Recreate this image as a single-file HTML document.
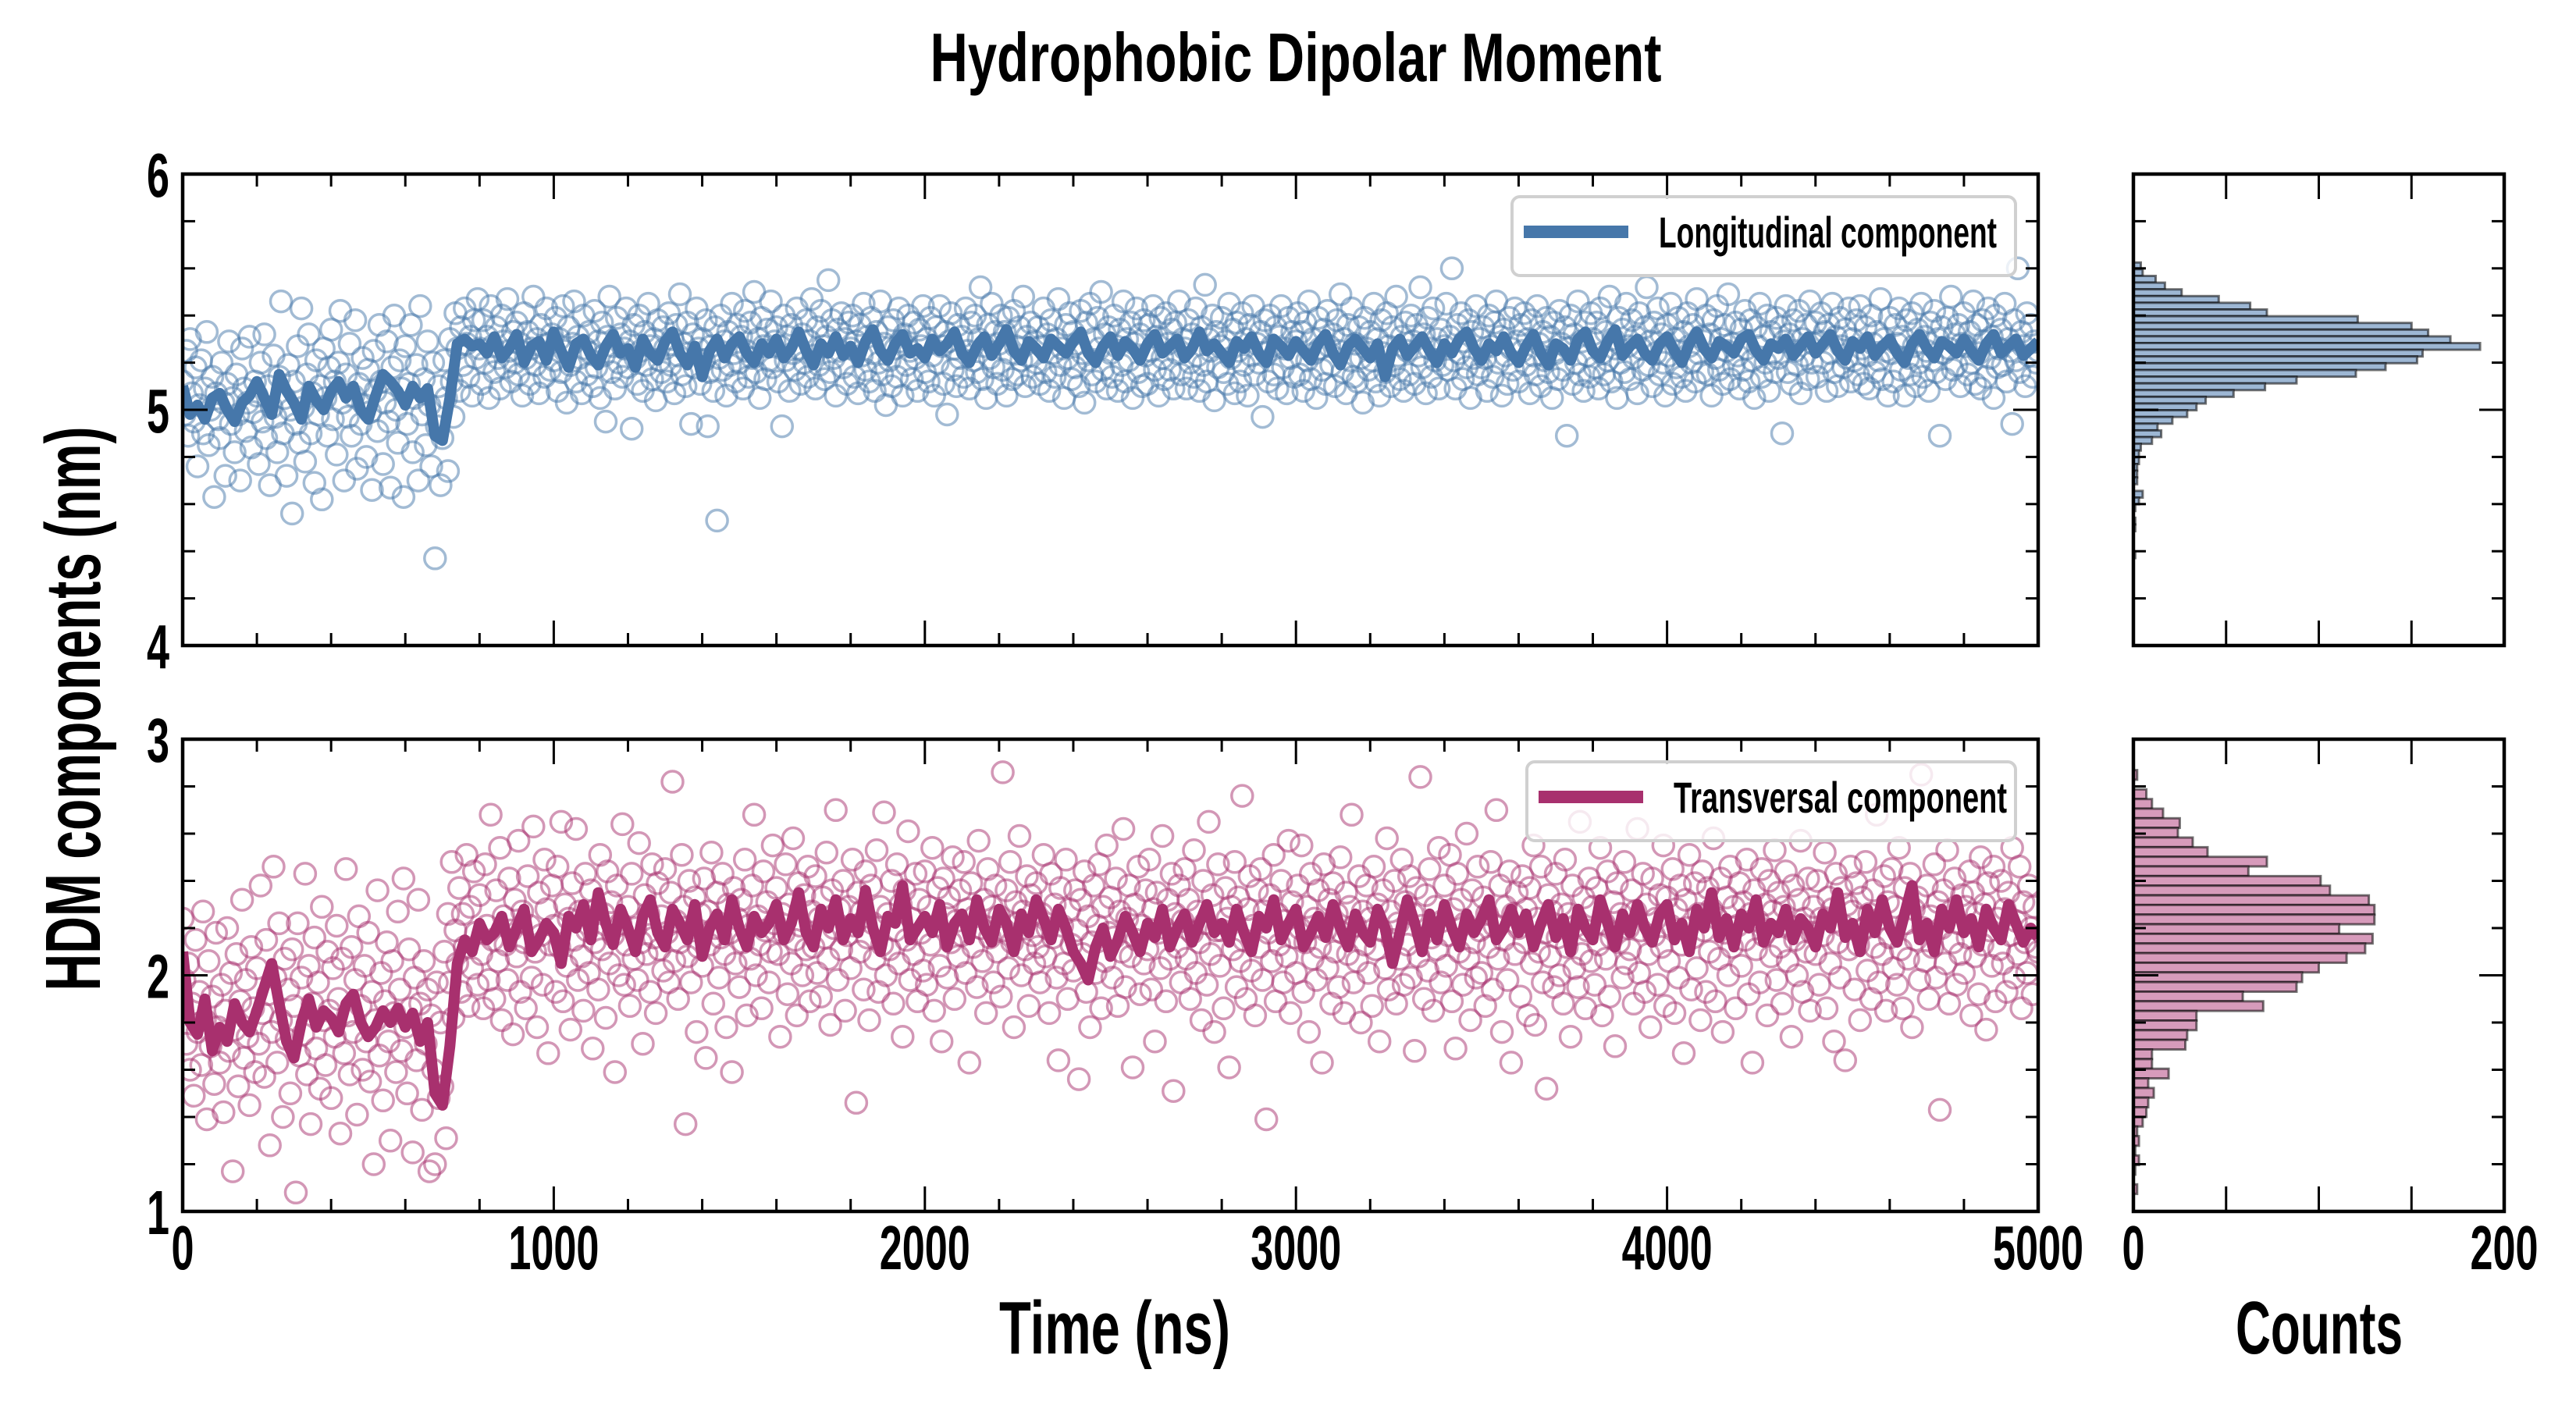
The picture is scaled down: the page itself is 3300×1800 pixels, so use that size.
<!DOCTYPE html>
<html><head><meta charset="utf-8"><title>Hydrophobic Dipolar Moment</title>
<style>
html,body{margin:0;padding:0;background:#fff;}
svg{display:block;}
text{font-family:"Liberation Sans Narrow","Liberation Sans",sans-serif;font-weight:bold;fill:#000;}
</style></head>
<body>
<svg id="chart" xmlns="http://www.w3.org/2000/svg" width="3300" height="1800" viewBox="0 0 3300 1800">
<rect x="0" y="0" width="3300" height="1800" fill="#fff"/>
<defs>
<clipPath id="clipTop"><rect x="234" y="223" width="2377" height="604"/></clipPath>
<clipPath id="clipBot"><rect x="234" y="947" width="2377" height="605"/></clipPath>
</defs>
<text x="1660" y="104" text-anchor="middle" font-size="88" textLength="937" lengthAdjust="spacingAndGlyphs">Hydrophobic Dipolar Moment</text>
<text transform="translate(128,908) rotate(-90)" text-anchor="middle" font-size="100" textLength="723" lengthAdjust="spacingAndGlyphs">HDM components (nm)</text>
<text x="1428" y="1734" text-anchor="middle" font-size="96" textLength="296" lengthAdjust="spacingAndGlyphs">Time (ns)</text>
<text x="2971" y="1734" text-anchor="middle" font-size="96" textLength="214" lengthAdjust="spacingAndGlyphs">Counts</text>
<g id="layer"></g>
</svg>
<script>
// ---- data ----
const timeMin = 0, timeMax = 5000;
const scatterStepNs = 5;
const lineStepNs = 20;
const longitudinalCenti = [
512,498,525,489,530,507,495,518,476,502,521,490,509,533,485,500,514,463,507,496,
488,520,503,472,511,529,494,505,482,515,498,470,526,509,491,503,531,484,499,512,
506,477,520,495,532,488,510,468,501,523,497,482,514,546,490,505,472,519,500,456,
512,494,527,486,543,501,478,515,532,490,507,469,521,498,510,462,526,505,489,518,
534,496,512,481,520,542,503,470,515,497,528,489,506,538,475,511,494,522,502,480,
517,499,466,525,508,491,536,512,477,503,529,495,467,518,540,500,486,521,509,463,
527,494,511,536,482,505,519,470,544,498,513,485,529,502,476,520,437,493,510,468,
488,521,505,474,530,512,497,541,526,508,535,519,543,528,514,531,506,538,522,547,
526,511,538,520,531,505,544,527,516,535,522,509,540,529,518,547,525,512,533,520,
537,515,528,506,541,522,533,511,526,548,519,530,507,536,524,514,543,528,517,532,
521,539,508,530,516,544,525,503,535,519,528,546,512,531,522,507,540,526,515,533,
524,510,542,518,529,505,537,523,495,531,548,516,527,509,539,520,532,514,526,543,
518,529,492,536,522,511,540,525,508,533,519,545,527,513,530,504,538,521,516,535,
526,512,541,519,530,507,536,523,549,515,528,510,537,524,494,532,518,543,526,511,
530,521,538,493,516,527,508,535,453,522,540,517,529,506,533,519,545,524,512,536,
520,531,509,542,525,514,537,522,550,516,530,505,539,527,513,534,521,546,518,529,
535,512,527,493,540,521,531,508,536,524,517,543,526,511,532,520,538,514,529,547,
523,509,535,519,542,527,513,531,555,516,538,522,506,534,525,541,518,530,511,537,
526,540,514,529,507,536,523,545,517,531,512,539,524,508,533,520,546,515,528,502,
535,521,510,538,526,514,543,529,506,532,519,540,525,513,537,522,508,534,527,544,
516,530,512,539,523,506,535,520,544,527,511,533,498,529,541,517,526,510,536,522,
531,514,543,525,509,537,521,540,516,530,552,513,527,505,536,522,545,518,533,511,
528,540,517,533,506,539,524,513,542,527,515,535,521,548,510,531,523,537,514,529,
520,535,511,527,543,516,532,508,538,524,514,530,547,519,526,505,536,522,541,513,
533,518,528,510,542,524,503,537,521,545,515,530,512,539,526,550,517,532,509,535,
524,514,540,527,508,534,519,546,512,530,521,537,505,528,543,516,532,510,538,523,
511,536,525,544,517,531,506,539,522,513,541,528,517,534,509,537,524,546,515,530,
526,509,538,520,532,514,543,523,508,535,519,553,512,530,525,540,504,533,518,527,
539,516,529,511,545,522,534,507,537,525,512,541,519,530,506,536,523,544,515,528,
520,533,497,538,524,512,540,527,515,535,509,531,544,518,526,507,539,522,533,514,
529,541,515,533,508,537,521,546,513,530,524,505,539,526,517,534,511,542,527,519,
532,510,538,525,549,516,530,507,536,521,543,514,528,512,535,522,503,539,526,517,
533,521,545,512,530,506,538,524,516,541,527,510,535,519,548,523,513,531,508,537,
525,515,540,529,511,536,523,552,518,532,507,539,526,514,543,521,530,509,534,519,
527,545,517,531,560,521,509,536,524,541,513,529,518,538,505,533,522,544,515,530,
518,535,522,508,540,527,514,537,546,520,531,506,534,523,511,539,526,517,543,529,
512,536,525,541,519,530,507,538,523,515,544,528,510,533,521,539,516,531,505,537,
524,513,542,528,517,535,489,526,540,511,532,520,546,515,529,508,537,523,514,541,
530,518,537,509,543,524,515,533,521,548,512,530,526,505,539,520,534,516,545,527,
513,538,522,531,507,541,526,517,535,552,519,529,510,537,524,543,515,532,520,506,
536,523,545,511,530,518,539,525,514,533,508,541,527,520,536,512,547,524,531,516,
529,540,515,532,506,538,522,544,517,530,511,536,525,549,513,528,519,537,523,509,
534,517,542,526,512,538,521,505,535,527,545,514,531,520,540,508,533,524,516,539,
522,535,490,529,544,516,532,511,538,525,519,542,507,530,523,536,513,546,520,528,
537,514,529,541,520,533,508,536,524,545,516,531,510,539,527,518,534,522,543,512,
530,521,538,515,544,526,511,535,523,509,540,528,516,533,521,547,513,530,525,506,
539,524,512,536,528,543,517,531,506,538,522,515,541,527,510,534,520,545,514,531,
525,508,537,521,542,516,530,489,535,524,513,539,526,548,517,532,519,536,510,528,
541,527,515,533,520,546,511,536,524,509,538,529,514,543,522,531,505,540,518,526,
534,519,545,512,530,525,494,538,521,560,516,533,527,510,541,523,536,514,529,520,
525];
const transversalCenti = [
224,198,171,205,160,188,149,215,176,193,162,227,181,139,206,170,191,154,218,178,
163,196,142,185,220,168,201,117,177,209,153,189,232,165,198,174,145,212,186,159,
203,171,238,184,157,215,192,128,176,246,199,163,222,181,140,207,173,194,150,211,
187,108,222,166,199,175,243,158,204,137,188,216,169,197,152,229,181,162,210,185,
148,203,174,221,190,133,207,167,245,183,158,212,176,198,141,225,187,160,204,172,
218,155,193,120,181,236,166,201,147,189,214,172,130,206,184,159,227,194,168,241,
178,150,211,186,125,199,164,232,188,143,206,171,194,117,183,160,120,197,148,180,
153,210,131,226,197,248,182,219,205,237,193,226,212,251,187,229,203,244,218,196,
234,209,186,247,221,198,268,215,190,236,206,254,181,225,213,198,241,219,175,232,
208,257,193,227,214,186,242,221,199,263,210,178,235,217,196,249,228,167,213,238,
221,193,246,212,265,189,230,204,224,177,239,215,262,198,227,208,185,243,219,201,
236,169,214,228,194,251,211,226,182,244,205,231,217,159,238,200,222,264,196,213,
229,187,243,207,220,198,256,214,171,234,209,226,193,247,216,184,239,211,225,202,
245,218,197,235,282,206,223,190,214,251,229,137,208,240,197,219,233,176,212,226,
204,241,165,227,213,252,188,220,235,199,216,243,209,178,230,218,159,237,205,224,
195,232,214,249,183,221,207,238,268,200,225,213,186,244,219,231,197,210,255,222,
237,209,174,226,218,247,192,230,205,258,215,183,239,221,200,234,211,246,189,227,
212,242,201,224,191,233,216,252,207,179,236,220,270,198,228,211,240,185,217,229,
203,249,221,146,235,210,227,194,244,216,181,238,222,207,253,193,229,213,269,200,
226,211,240,188,219,247,205,230,174,236,215,261,198,224,209,243,189,232,218,202,
244,196,229,213,254,185,221,237,204,172,241,226,199,233,214,250,190,223,208,236,
217,248,201,228,163,239,212,225,195,257,220,206,232,184,245,216,229,197,238,210,
225,191,286,219,236,203,248,214,178,231,222,259,200,227,211,242,187,234,217,205,
239,212,197,226,251,208,220,184,243,216,230,199,164,237,221,205,249,190,228,213,
202,236,219,156,232,209,244,193,225,178,214,238,201,221,247,186,229,206,255,218,
233,199,216,241,187,227,210,262,195,224,238,208,161,230,215,246,192,221,205,236,
211,249,194,228,172,235,218,203,259,220,189,232,207,243,151,226,212,238,197,223,
245,207,232,190,218,253,201,227,214,181,240,222,196,265,209,234,176,219,247,204,
219,186,237,224,161,229,211,248,195,233,206,276,215,190,228,242,202,221,183,236,
212,245,198,227,139,218,234,206,251,189,226,213,240,197,223,208,257,184,231,216,
201,238,220,255,193,214,229,176,243,207,224,198,236,212,163,247,219,203,232,188,
239,210,226,195,250,218,184,235,209,229,268,197,221,206,242,180,227,213,238,201,
224,187,246,211,230,172,219,236,203,258,194,227,215,240,188,222,207,249,196,231,
213,242,199,226,168,237,208,284,221,190,234,202,245,216,185,229,211,254,197,223,
238,204,217,251,189,228,169,243,210,232,196,222,260,207,181,236,214,199,246,219,
201,233,187,226,212,248,194,221,270,207,238,176,215,229,198,244,163,226,209,235,
220,191,242,214,228,183,237,205,255,179,224,210,246,197,218,152,234,208,227,195,
243,216,200,230,188,249,212,226,174,238,203,221,195,265,209,233,186,219,241,206,
229,196,237,213,254,183,222,207,244,191,216,231,170,239,214,226,199,248,205,220,
211,236,188,227,262,201,219,243,193,230,209,178,241,217,224,196,234,212,255,187,
233,206,221,245,184,228,199,238,213,167,232,220,251,194,216,239,203,226,181,244,
219,193,237,210,228,258,189,224,207,241,176,218,233,200,246,212,229,186,221,239,
204,231,215,249,192,226,163,236,211,223,197,245,217,230,183,240,208,227,253,198,
235,212,188,229,244,206,221,174,238,215,200,232,257,193,224,210,241,185,218,229,
209,240,196,224,217,252,186,233,205,228,172,243,214,199,237,221,164,230,211,246,
227,194,239,213,181,233,220,248,202,226,190,236,212,268,197,224,209,242,185,231,
216,245,203,229,196,254,211,186,237,222,207,243,178,228,215,233,198,285,220,206,
238,190,225,212,247,199,231,143,220,236,205,253,188,227,214,241,196,222,209,234,
201,229,216,244,183,235,208,226,192,250,213,230,177,239,219,204,246,189,224,211,
240,205,228,193,235,217,254,199,223,209,246,186,231,214,201,238,220,192,229,212,
210];
const longitudinalRunningCenti = [
510,498,502,496,505,507,500,495,503,506,512,505,498,515,508,503,496,510,504,500,
508,512,505,510,500,496,506,515,512,508,502,510,505,509,489,487,505,528,530,527,
528,524,531,522,526,532,520,527,529,521,533,525,518,528,530,523,519,527,532,524,
526,518,530,524,521,529,533,524,519,527,514,525,530,522,528,531,524,520,528,524,
530,522,526,533,525,519,528,524,531,523,527,520,529,534,525,521,528,532,524,526,
522,530,525,528,533,524,520,527,531,523,528,534,525,521,529,526,522,530,527,524,
529,533,524,520,527,531,523,529,526,521,528,532,524,527,530,522,526,533,525,528,
524,520,529,526,531,524,520,530,527,523,529,525,521,528,532,524,519,527,530,526,
522,528,514,526,530,523,527,531,525,520,528,524,530,533,526,521,528,525,531,524,
520,527,532,524,519,528,526,521,530,533,525,522,529,534,523,527,530,524,521,528,
531,525,520,528,533,526,522,529,527,524,530,532,525,521,528,526,530,523,527,531,
524,528,532,525,521,529,526,531,523,527,530,524,520,528,532,526,522,529,527,524,
530,525,521,528,532,524,527,530,523,526,
529];
const transversalRunningCenti = [
210,180,175,190,168,178,172,188,180,176,185,195,205,188,172,165,180,190,178,185,
182,176,188,192,180,174,178,185,180,186,178,184,172,180,150,145,170,205,215,210,
222,215,218,225,212,220,228,210,215,222,218,205,225,220,230,215,235,222,213,228,
220,210,225,232,218,212,228,222,215,230,208,220,226,215,232,220,212,225,218,222,
230,215,222,235,218,212,228,220,232,215,224,218,236,220,210,225,222,238,215,220,
225,218,230,212,222,226,215,232,220,214,228,222,210,226,218,232,224,215,228,220,
210,205,198,212,220,208,215,225,218,210,222,216,228,212,220,226,214,222,230,218,
222,214,228,218,210,225,220,232,215,222,228,212,218,225,216,230,220,212,226,218,
214,228,220,205,218,232,222,210,226,215,230,220,212,226,218,224,232,215,220,228,
218,226,212,222,230,216,224,210,228,220,215,232,222,212,226,218,230,220,214,226,
230,215,222,210,228,220,235,216,224,212,226,220,232,214,222,218,228,215,224,220,
212,226,220,235,216,222,210,228,218,232,220,214,226,238,215,222,210,228,220,232,
218,224,212,228,220,215,230,222,214,220,
216];
// histogram bins listed from highest value bin downward
const histTopBinTop = 5.625, histTopBinWidth = 0.0285;
const histTopCounts = [4,5,12,17,26,46,63,72,121,150,159,171,187,156,153,136,120,88,71,54,39,34,29,21,13,15,10,4,3,3,2,2,2,0,5,3,1,0,1,1,0,0,0,1];
const histBotBinTop = 2.869, histBotBinWidth = 0.0408;
const histBotCounts = [2,0,7,10,16,25,24,32,40,72,62,101,106,127,130,130,111,129,125,115,100,91,88,59,70,34,34,29,28,10,10,19,8,11,8,7,5,2,3,1,3,1,0,2];
const xTickValues = [0,1000,2000,3000,4000,5000];
const xTickLabels = ["0","1000","2000","3000","4000","5000"];
const yTopTickValues = [4,5,6];
const yTopTickLabels = ["4","5","6"];
const yBotTickValues = [1,2,3];
const yBotTickLabels = ["1","2","3"];
const countTickLabels = ["0","200"];
const countMax = 200;

// ---- layout ----
const NS = "http://www.w3.org/2000/svg";
const layer = document.getElementById("layer");
const mainL = 234, mainR = 2611, histL = 2733, histR = 3208;
const topT = 223, topB = 827, botT = 947, botB = 1552;
const BLUE = "#4677aa", PINK = "#a8306e";
function xS(t){ return mainL + (t - timeMin) / (timeMax - timeMin) * (mainR - mainL); }
function yTopS(v){ return topB - (v - 4) / 2 * (topB - topT); }
function yBotS(v){ return botB - (v - 1) / 2 * (botB - botT); }
function cS(c){ return histL + c / countMax * (histR - histL); }
function mk(tag, parent){ const e = document.createElementNS(NS, tag); parent.appendChild(e); return e; }

function drawScatter(vals, yS, color, clip, name){
  const g = mk("g", layer);
  g.setAttribute("clip-path", "url(#" + clip + ")");
  
  
  vals.forEach(function(v, i){
    const c = mk("circle", g);
    c.setAttribute("cx", xS(i * scatterStepNs).toFixed(1));
    c.setAttribute("cy", yS(v / 100).toFixed(1));
    c.setAttribute("r", "13.5");
    c.setAttribute("fill", "none");
    c.setAttribute("stroke", color);
    c.setAttribute("stroke-opacity", "0.5");
    c.setAttribute("stroke-width", "3.5");
    
    
  });
}
function drawLine(vals, yS, color, clip, name){
  const p = mk("path", layer);
  let d = "";
  vals.forEach(function(v, i){ d += (i ? "L" : "M") + xS(i * lineStepNs).toFixed(1) + "," + yS(v / 100).toFixed(1); });
  p.setAttribute("d", d);
  p.setAttribute("fill", "none");
  p.setAttribute("stroke", color);
  p.setAttribute("stroke-width", "14");
  p.setAttribute("stroke-linejoin", "round");
  p.setAttribute("clip-path", "url(#" + clip + ")");
  
  
}
function drawHist(counts, binTop, w, yS, fill, name){
  const g = mk("g", layer);
  
  
  counts.forEach(function(c, i){
    if (!c) return;
    const hi = binTop - i * w, lo = hi - w;
    const r = mk("rect", g);
    r.setAttribute("x", cS(0));
    r.setAttribute("y", yS(hi).toFixed(1));
    r.setAttribute("width", (cS(c) - cS(0)).toFixed(1));
    r.setAttribute("height", (yS(lo) - yS(hi)).toFixed(1));
    r.setAttribute("fill", fill);
    r.setAttribute("stroke", "rgba(0,0,0,0.55)");
    r.setAttribute("stroke-width", "3");
    
    
  });
}
function line(x1,y1,x2,y2,w,g){
  const l = mk("line", g);
  l.setAttribute("x1",x1); l.setAttribute("y1",y1); l.setAttribute("x2",x2); l.setAttribute("y2",y2);
  l.setAttribute("stroke","#000"); l.setAttribute("stroke-width",w);
  return l;
}
function drawAxesBox(L,R,T,B,name,xTicksMajor,xTicksMinor,yS){
  const g = mk("g", layer);
  
  
  const base = yS === yTopS ? 4 : 1;
  for (let k = 1; k < 10; k++){
    const y = yS(base + k * 0.2);
    const len = (k === 5) ? 32 : 16;
    line(L, y, L + len, y, 3, g);
    line(R, y, R - len, y, 3, g);
  }
  xTicksMajor.forEach(function(x){ line(x, B, x, B - 32, 3, g); line(x, T, x, T + 32, 3, g); });
  xTicksMinor.forEach(function(x){ line(x, B, x, B - 16, 3, g); line(x, T, x, T + 16, 3, g); });
  const r = mk("rect", g);
  r.setAttribute("x", L); r.setAttribute("y", T); r.setAttribute("width", R - L); r.setAttribute("height", B - T);
  r.setAttribute("fill", "none"); r.setAttribute("stroke", "#000"); r.setAttribute("stroke-width", "4.5");
}
function drawLegend(x, y, w, h, color, label, textLen, name){
  const g = mk("g", layer);
  
  
  const r = mk("rect", g);
  r.setAttribute("x", x); r.setAttribute("y", y); r.setAttribute("width", w); r.setAttribute("height", h);
  r.setAttribute("rx", "10"); r.setAttribute("fill", "rgba(255,255,255,0.8)");
  r.setAttribute("stroke", "#d0d0d0"); r.setAttribute("stroke-width", "4");
  const l = mk("line", g);
  l.setAttribute("x1", x + 15); l.setAttribute("x2", x + 149);
  l.setAttribute("y1", y + 45); l.setAttribute("y2", y + 45);
  l.setAttribute("stroke", color); l.setAttribute("stroke-width", "16");
  
  
  const t = mk("text", g);
  t.setAttribute("x", x + 188); t.setAttribute("y", y + 65);
  t.setAttribute("font-size", "56");
  t.setAttribute("textLength", textLen);
  t.setAttribute("lengthAdjust", "spacingAndGlyphs");
  t.textContent = label;
  
  
}
function tickText(x, y, s, anchor, name){
  const t = mk("text", layer);
  t.setAttribute("x", x); t.setAttribute("y", y);
  t.setAttribute("font-size", "80");
  t.setAttribute("text-anchor", anchor);
  t.setAttribute("textLength", (29 * s.length).toString());
  t.setAttribute("lengthAdjust", "spacingAndGlyphs");
  t.textContent = s;
  
  
}

drawScatter(longitudinalCenti, yTopS, BLUE, "clipTop", "longitudinal-scatter");
drawLine(longitudinalRunningCenti, yTopS, BLUE, "clipTop", "longitudinal-running-mean");
drawScatter(transversalCenti, yBotS, PINK, "clipBot", "transversal-scatter");
drawLine(transversalRunningCenti, yBotS, PINK, "clipBot", "transversal-running-mean");
drawHist(histTopCounts, histTopBinTop, histTopBinWidth, yTopS, "#9db7d4", "longitudinal-histogram");
drawHist(histBotCounts, histBotBinTop, histBotBinWidth, yBotS, "#d79bbb", "transversal-histogram");

const majX = [], minX = [];
for (let t = 200; t < timeMax; t += 200){ (t % 1000 === 0 ? majX : minX).push(xS(t)); }
const histMaj = [50,100,150].map(cS);
drawAxesBox(mainL, mainR, topT, topB, "longitudinal-axes", majX, minX, yTopS);
drawAxesBox(mainL, mainR, botT, botB, "transversal-axes", majX, minX, yBotS);
drawAxesBox(histL, histR, topT, topB, "longitudinal-hist-axes", histMaj, [], yTopS);
drawAxesBox(histL, histR, botT, botB, "transversal-hist-axes", histMaj, [], yBotS);

drawLegend(1937, 252, 645, 101, BLUE, "Longitudinal component", "433", "legend-longitudinal");
drawLegend(1956, 976, 626, 101, PINK, "Transversal component", "427", "legend-transversal");

xTickValues.forEach(function(v, i){ tickText(xS(v), 1626, xTickLabels[i], "middle", "x-tick-label"); });
yTopTickValues.forEach(function(v, i){ tickText(217, yTopS(v) + 29, yTopTickLabels[i], "end", "y-tick-label"); });
yBotTickValues.forEach(function(v, i){ tickText(217, yBotS(v) + 29, yBotTickLabels[i], "end", "y-tick-label"); });
tickText(cS(0), 1626, countTickLabels[0], "middle", "count-tick-label");
tickText(cS(countMax), 1626, countTickLabels[1], "middle", "count-tick-label");
</script>
</body></html>
